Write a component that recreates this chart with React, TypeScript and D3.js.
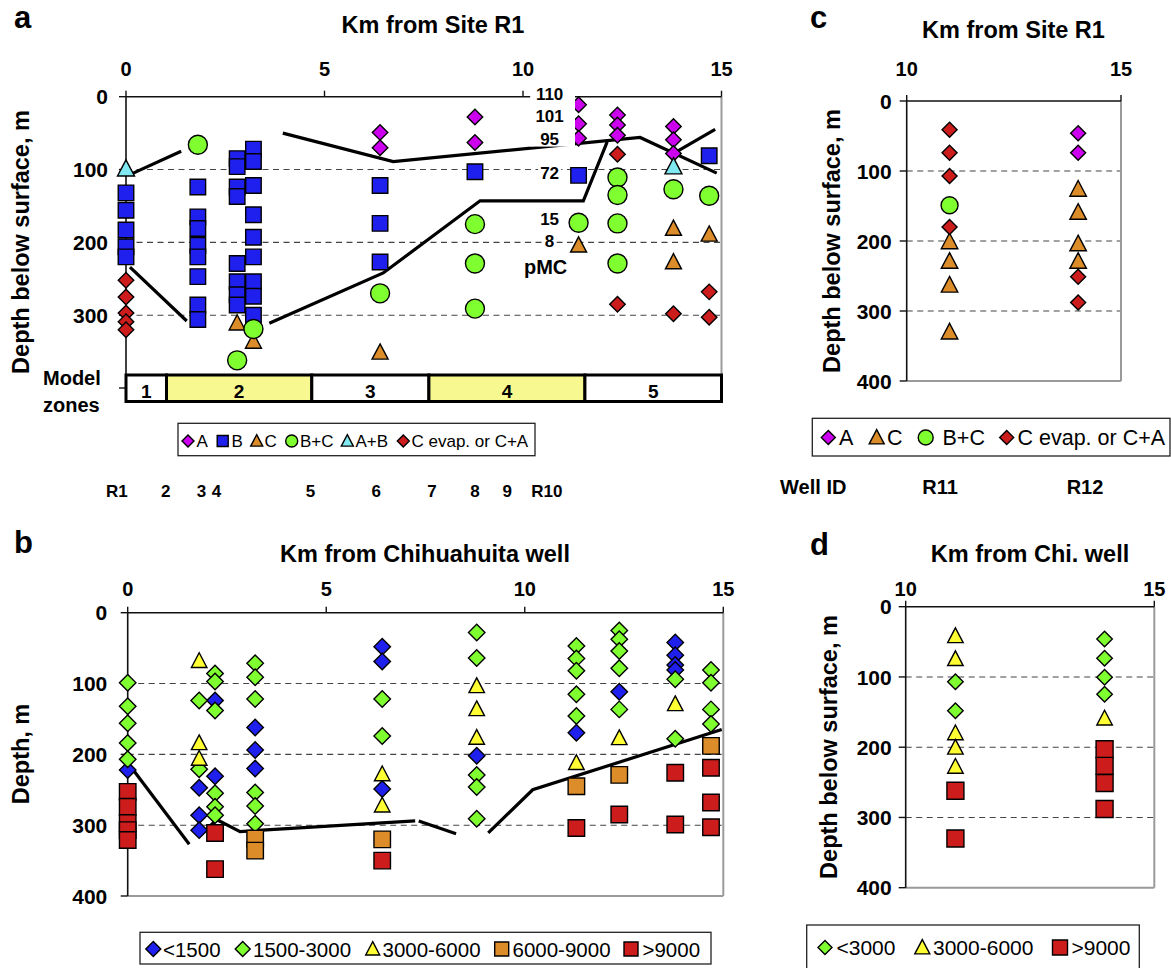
import React from "react";
import * as d3 from "d3";

const FONT = "Arial, 'Liberation Sans', Helvetica, sans-serif";

// ---------- colours ----------
const MAG = "#CC00EE";
const BLUE = "#2020EE";
const ORANGE = "#DC8C28";
const GREEN = "#80FF30";
const CYAN = "#80E8F0";
const RED = "#CC1C1C";
const YELLOW = "#FFFF33";
const ZONE_YELLOW = "#F8F890";

type P = [number, number]; // [km, depth m]

// ---------- Panel a data (km from Site R1, depth m) ----------
const aTypeA: P[] = [[6.4, 49], [6.4, 70], [8.79, 28], [8.79, 63], [11.4, 11], [11.4, 37], [11.4, 57], [12.38, 25], [12.38, 39], [12.38, 53], [13.79, 41], [13.79, 59], [13.79, 78]];
const aTypeB: P[] = [
  [0, 132], [0, 156], [0, 183], [0, 206], [0, 220],
  [1.81, 124], [1.81, 165], [1.81, 181], [1.81, 204], [1.81, 220], [1.81, 247], [1.81, 286], [1.81, 306],
  [2.8, 85], [2.8, 96], [2.8, 124], [2.8, 137], [2.8, 229], [2.8, 254], [2.8, 272], [2.8, 286],
  [3.21, 72], [3.21, 89], [3.21, 122], [3.21, 162], [3.21, 193], [3.21, 220], [3.21, 254], [3.21, 274], [3.21, 300],
  [6.4, 122], [6.4, 174], [6.4, 227], [8.79, 103], [11.4, 108], [14.69, 81]];
const aTypeC: P[] = [[2.8, 311], [3.21, 336], [6.4, 351], [11.4, 204], [13.79, 181], [13.79, 227], [14.69, 189]];
const aTypeBC: P[] = [[1.81, 66], [2.8, 362], [3.21, 319], [6.4, 270], [8.79, 175], [8.79, 229], [8.79, 291], [11.4, 173], [12.38, 111], [12.38, 135], [12.38, 174], [12.38, 229], [13.79, 127], [14.69, 136]];
const aTypeAB: P[] = [[0, 99], [13.79, 96]];
const aTypeCE: P[] = [[0, 252], [0, 275], [0, 297], [0, 309], [0, 320], [12.38, 79], [12.38, 285], [13.79, 298], [14.69, 268], [14.69, 303]];

const aLines: P[][] = [
  [[0.14, 106], [1.39, 75]],
  [[3.95, 50], [6.73, 89], [12.95, 56], [14.88, 105]],
  [[13.73, 80], [14.84, 45]],
  [[0.1, 234], [1.53, 308]],
  [[3.61, 311], [6.48, 242], [8.92, 143], [11.52, 143], [12.12, 62]],
];

const zoneNames = ["1", "2", "3", "4", "5"];
const zoneBreaksKm = [0, 1.02, 4.68, 7.63, 11.56, 15];

const pmcLabels = ["110", "101", "95", "72", "15", "8"];
const pmcDepth = [-3.5, 26.5, 58, 105, 168, 198];
const pmcKm = 10.67;

const wellLabelsA = ["R1", "2", "3", "4", "5", "6", "7", "8", "9", "R10"];
const wellLabelKmA = [-0.23, 1.0, 1.9, 2.28, 4.65, 6.3, 7.71, 8.79, 9.6, 10.6];
const wellLabelsC = ["Well ID", "R11", "R12"];
const wellLabelKmC = [7.82, 10.78, 14.16];

// ---------- Panel b data (km from Chihuahuita well) ----------
const bLt1500: P[] = [[0, 222], [1.8, 247], [1.8, 286], [1.8, 307], [2.2, 124], [2.2, 231], [3.21, 162], [3.21, 194], [3.21, 220], [6.41, 48], [6.41, 69], [6.41, 249], [8.79, 202], [11.3, 169.5], [12.38, 111.5], [13.79, 42], [13.79, 60], [13.79, 74], [13.79, 81]];
const b1500_3000: P[] = [
  [0, 99], [0, 132], [0, 156], [0, 184], [0, 207],
  [1.8, 124], [1.8, 221],
  [2.2, 86], [2.2, 97], [2.2, 138], [2.2, 255], [2.2, 274], [2.2, 286],
  [3.21, 71.5], [3.21, 91], [3.21, 122], [3.21, 254], [3.21, 273], [3.21, 298],
  [6.41, 122], [6.41, 174],
  [8.79, 28], [8.79, 64], [8.79, 229], [8.79, 246], [8.79, 291],
  [11.3, 47], [11.3, 64.5], [11.3, 82], [11.3, 115], [11.3, 146],
  [12.38, 25], [12.38, 37.6], [12.38, 54], [12.38, 78.5], [12.38, 136.5],
  [13.79, 94], [13.79, 178],
  [14.69, 81], [14.69, 99], [14.69, 136.5], [14.69, 157]];
const b3000_6000: P[] = [[1.8, 68], [1.8, 184], [1.8, 206], [6.41, 228], [6.41, 272], [8.79, 103.5], [8.79, 136], [8.79, 176.5], [11.3, 212], [12.38, 177], [13.79, 129]];
const b6000_9000: P[] = [[3.21, 319], [3.21, 336], [6.41, 320], [11.3, 245], [12.38, 229], [14.69, 188]];
const bGt9000: P[] = [[0, 253], [0, 274], [0, 297], [0, 307], [0, 321], [2.2, 311], [2.2, 362], [6.41, 350], [11.3, 304], [12.38, 285], [13.79, 226], [13.79, 299], [14.69, 219], [14.69, 268], [14.69, 303]];

const bLines: P[][] = [
  [[0.14, 222], [1.55, 327]],
  [[1.88, 312], [2.24, 292], [2.83, 309], [7.24, 294]],
  [[7.33, 294], [8.27, 312]],
  [[9.08, 311], [10.2, 250], [14.96, 165]],
];

// ---------- Panel c data ----------
const cTypeA: P[] = [[14.0, 46], [14.0, 74]];
const cTypeC: P[] = [[11.0, 201], [11.0, 229], [11.0, 263], [11.0, 330], [14.0, 126], [14.0, 159], [14.0, 204], [14.0, 229]];
const cTypeBC: P[] = [[11.0, 149]];
const cTypeCE: P[] = [[11.0, 41], [11.0, 74], [11.0, 107], [11.0, 180], [14.0, 251], [14.0, 288]];

// ---------- Panel d data ----------
const dLt3000: P[] = [[11.0, 106.7], [11.0, 148], [14.0, 46], [14.0, 73.5], [14.0, 100.5], [14.0, 124.6]];
const d3000_6000: P[] = [[11.0, 41.7], [11.0, 74.4], [11.0, 180], [11.0, 200.5], [11.0, 227.6], [14.0, 159]];
const dGt9000: P[] = [[11.0, 262], [11.0, 330], [14.0, 203], [14.0, 226.6], [14.0, 251], [14.0, 288]];

// ---------- axis ticks ----------
const xTicksWide = [0, 5, 10, 15];
const xTicksNarrow = [10, 15];
const yTicks = [0, 100, 200, 300, 400];
const yTicksA = [0, 100, 200, 300];
const yGrid = [100, 200, 300];

type Shape = "diamond" | "square" | "triangle" | "circle";

function shapePath(shape: Shape, cx: number, cy: number, s: number): string {
  const h = s / 2;
  if (shape === "diamond") return `M${cx},${cy - h}L${cx + h},${cy}L${cx},${cy + h}L${cx - h},${cy}Z`;
  if (shape === "square") return `M${cx - h},${cy - h}h${s}v${s}h${-s}Z`;
  return `M${cx},${cy - h * 1.05}L${cx + h},${cy + h * 0.85}L${cx - h},${cy + h * 0.85}Z`;
}

function Marker({ shape, cx, cy, size, fill }: { shape: Shape; cx: number; cy: number; size: number; fill: string }) {
  if (shape === "circle") return <circle cx={cx} cy={cy} r={size / 2} fill={fill} stroke="#000" strokeWidth={1.4} />;
  return <path d={shapePath(shape, cx, cy, size)} fill={fill} stroke="#000" strokeWidth={1.4} />;
}

type Series = { data: P[]; shape: Shape; fill: string; size: number };

function Points({ series, x, y }: { series: Series[]; x: d3.ScaleLinear<number, number>; y: d3.ScaleLinear<number, number> }) {
  return (
    <g>
      {series.map((s, i) => (
        <g key={i}>
          {s.data.map((d, j) => (
            <Marker key={j} shape={s.shape} cx={x(d[0])} cy={y(d[1])} size={s.size} fill={s.fill} />
          ))}
        </g>
      ))}
    </g>
  );
}

function Frame({ x, y, xTicks, yLabels, rightBottomY, tickLabelY, yLabelX, drawBottom }: {
  x: d3.ScaleLinear<number, number>; y: d3.ScaleLinear<number, number>; xTicks: number[]; yLabels: number[];
  rightBottomY: number; tickLabelY: number; yLabelX: number; drawBottom: boolean;
}) {
  const [x0, x1] = x.range();
  const [y0, y1] = y.range();
  return (
    <g>
      {yGrid.map((g) => (
        <line key={g} x1={x0} x2={x1} y1={y(g)} y2={y(g)} stroke="#444" strokeWidth={1.1} strokeDasharray="6 4.5" />
      ))}
      <line x1={x1} x2={x1} y1={y0} y2={rightBottomY} stroke="#9a9a9a" strokeWidth={2} />
      {drawBottom && <line x1={x0} x2={x1} y1={y1} y2={y1} stroke="#9a9a9a" strokeWidth={2} />}
      <line x1={x0} x2={x1} y1={y0} y2={y0} stroke="#111" strokeWidth={1.6} />
      <line x1={x0} x2={x0} y1={y0} y2={y1} stroke="#111" strokeWidth={1.6} />
      {xTicks.map((t) => (
        <g key={t}>
          <line x1={x(t)} x2={x(t)} y1={y0} y2={y0 - 6} stroke="#111" strokeWidth={1.4} />
          <text x={x(t)} y={tickLabelY} textAnchor="middle" fontSize={20} fontWeight="bold" fontFamily={FONT}>{t}</text>
        </g>
      ))}
      {yTicks.map((t) => (
        <line key={t} x1={x0 - 7} x2={x0} y1={y(t)} y2={y(t)} stroke="#111" strokeWidth={1.4} />
      ))}
      {yLabels.map((t) => (
        <text key={t} x={yLabelX} y={y(t)} dy="0.36em" textAnchor="end" fontSize={21} fontWeight="bold" fontFamily={FONT}>{t}</text>
      ))}
    </g>
  );
}

function Lines({ lines, x, y }: { lines: P[][]; x: d3.ScaleLinear<number, number>; y: d3.ScaleLinear<number, number> }) {
  const gen = d3.line<P>().x((d) => x(d[0])).y((d) => y(d[1]));
  return (
    <g>
      {lines.map((l, i) => (
        <path key={i} d={gen(l) || ""} fill="none" stroke="#000" strokeWidth={3.2} strokeLinejoin="miter" />
      ))}
    </g>
  );
}

type LegendItem = { shape: Shape; fill: string; label: string; mx: number; tx: number; size: number };

function Legend({ x0, x1, y0, y1, items, my, ty, fontSize }: { x0: number; x1: number; y0: number; y1: number; items: LegendItem[]; my: number; ty: number; fontSize: number }) {
  return (
    <g>
      <rect x={x0} y={y0} width={x1 - x0} height={y1 - y0} fill="#fff" stroke="#222" strokeWidth={1.3} />
      {items.map((it, i) => (
        <g key={i}>
          <Marker shape={it.shape} cx={it.mx} cy={my} size={it.size} fill={it.fill} />
          <text x={it.tx} y={ty} fontSize={fontSize} fontFamily={FONT}>{it.label}</text>
        </g>
      ))}
    </g>
  );
}

function Title({ x, y, text }: { x: number; y: number; text: string }) {
  return <text x={x} y={y} textAnchor="middle" fontSize={23.5} fontWeight="bold" fontFamily={FONT}>{text}</text>;
}

function YLabel({ x, y, text }: { x: number; y: number; text: string }) {
  return (
    <text transform={`translate(${x},${y}) rotate(-90)`} dy="0.36em" textAnchor="middle" fontSize={23.5} fontWeight="bold" fontFamily={FONT}>{text}</text>
  );
}

function PanelLetter({ x, y, text }: { x: number; y: number; text: string }) {
  return <text x={x} y={y} fontSize={31} fontWeight="bold" fontFamily={FONT}>{text}</text>;
}

export default function App() {
  const xA = d3.scaleLinear().domain([0, 15]).range([126, 721.5]);
  const yA = d3.scaleLinear().domain([0, 400]).range([96.7, 388]);
  const xB = d3.scaleLinear().domain([0, 15]).range([127.7, 723.3]);
  const yB = d3.scaleLinear().domain([0, 400]).range([612.7, 896]);
  const xC = d3.scaleLinear().domain([10, 15]).range([906.7, 1121]);
  const yC = d3.scaleLinear().domain([0, 400]).range([101, 381]);
  const xD = d3.scaleLinear().domain([10, 15]).range([905.7, 1154.3]);
  const yD = d3.scaleLinear().domain([0, 400]).range([606.7, 887.7]);

  const seriesA: Series[] = [
    { data: aTypeB, shape: "square", fill: BLUE, size: 15.5 },
    { data: aTypeA, shape: "diamond", fill: MAG, size: 15.5 },
    { data: aTypeC, shape: "triangle", fill: ORANGE, size: 16 },
    { data: aTypeBC, shape: "circle", fill: GREEN, size: 19 },
    { data: aTypeAB, shape: "triangle", fill: CYAN, size: 17 },
    { data: aTypeCE, shape: "diamond", fill: RED, size: 15.5 },
  ];
  const seriesB: Series[] = [
    { data: bLt1500, shape: "diamond", fill: BLUE, size: 16.5 },
    { data: b1500_3000, shape: "diamond", fill: GREEN, size: 16.5 },
    { data: b3000_6000, shape: "triangle", fill: YELLOW, size: 15.5 },
    { data: b6000_9000, shape: "square", fill: ORANGE, size: 16.5 },
    { data: bGt9000, shape: "square", fill: RED, size: 16.5 },
  ];
  const seriesC: Series[] = [
    { data: cTypeA, shape: "diamond", fill: MAG, size: 15 },
    { data: cTypeC, shape: "triangle", fill: ORANGE, size: 16.5 },
    { data: cTypeBC, shape: "circle", fill: GREEN, size: 17 },
    { data: cTypeCE, shape: "diamond", fill: RED, size: 15 },
  ];
  const seriesD: Series[] = [
    { data: dLt3000, shape: "diamond", fill: GREEN, size: 15.5 },
    { data: d3000_6000, shape: "triangle", fill: YELLOW, size: 15.5 },
    { data: dGt9000, shape: "square", fill: RED, size: 17 },
  ];

  const zoneTop = 375;
  const zoneBottom = 401.5;
  const boxX0 = xA(10.18), boxX1 = xA(11.31);

  return (
    <svg width={1171} height={968} style={{ position: "absolute", left: 0, top: 0, background: "#fff" }}>
      {/* ================= Panel a ================= */}
      <PanelLetter x={14} y={28} text="a" />
      <Title x={433} y={33} text="Km from Site R1" />
      <YLabel x={21} y={242} text="Depth below surface, m" />
      <Frame x={xA} y={yA} xTicks={xTicksWide} yLabels={yTicksA} rightBottomY={zoneTop} tickLabelY={76} yLabelX={108} drawBottom={false} />
      <Lines lines={aLines} x={xA} y={yA} />
      <Points series={seriesA} x={xA} y={yA} />
      <rect x={boxX0} y={yA(-14)} width={boxX1 - boxX0} height={yA(68.5) - yA(-14)} fill="#fff" />
      {pmcLabels.map((l, i) => {
        const w = l.length * 9.5 + 4;
        return (
          <g key={l}>
            {i >= 3 && <rect x={xA(pmcKm) - w / 2} y={yA(pmcDepth[i]) - 9} width={w} height={18} fill="#fff" />}
            <text x={xA(pmcKm)} y={yA(pmcDepth[i])} dy="0.36em" textAnchor="middle" fontSize={17} fontWeight="bold" fontFamily={FONT}>{l}</text>
          </g>
        );
      })}
      <text x={xA(pmcKm) - 4} y={274} textAnchor="middle" fontSize={20} fontWeight="bold" fontFamily={FONT}>pMC</text>
      {zoneNames.map((z, i) => {
        const zx0 = xA(zoneBreaksKm[i]);
        const zx1 = xA(zoneBreaksKm[i + 1]);
        return (
          <g key={z}>
            <rect x={zx0} y={zoneTop} width={zx1 - zx0} height={zoneBottom - zoneTop} fill={i === 1 || i === 3 ? ZONE_YELLOW : "#fff"} stroke="#000" strokeWidth={3} />
            <text x={(zx0 + zx1) / 2} y={398} textAnchor="middle" fontSize={19} fontWeight="bold" fontFamily={FONT}>{z}</text>
          </g>
        );
      })}
      <text x={43} y={385} fontSize={20} fontWeight="bold" fontFamily={FONT}>Model</text>
      <text x={43} y={412} fontSize={20} fontWeight="bold" fontFamily={FONT}>zones</text>
      <Legend x0={178} x1={535} y0={423.3} y1={455.7} my={441} ty={446.5} fontSize={17}
        items={[
          { shape: "diamond", fill: MAG, label: "A", mx: 188, tx: 196.5, size: 12 },
          { shape: "square", fill: BLUE, label: "B", mx: 222.7, tx: 231.5, size: 11 },
          { shape: "triangle", fill: ORANGE, label: "C", mx: 256.7, tx: 264.5, size: 12 },
          { shape: "circle", fill: GREEN, label: "B+C", mx: 291.7, tx: 300, size: 12 },
          { shape: "triangle", fill: CYAN, label: "A+B", mx: 347.3, tx: 355.5, size: 12 },
          { shape: "diamond", fill: RED, label: "C evap. or C+A", mx: 403.3, tx: 411.5, size: 12 },
        ]} />
      {wellLabelsA.map((l, i) => (
        <text key={l + i} x={xA(wellLabelKmA[i])} y={497} textAnchor="middle" fontSize={17} fontWeight="bold" fontFamily={FONT}>{l}</text>
      ))}

      {/* ================= Panel c ================= */}
      <PanelLetter x={810} y={28} text="c" />
      <Title x={1013.5} y={38} text="Km from Site R1" />
      <YLabel x={832} y={241} text="Depth below surface, m" />
      <Frame x={xC} y={yC} xTicks={xTicksNarrow} yLabels={yTicks} rightBottomY={yC(400)} tickLabelY={76} yLabelX={891.7} drawBottom={true} />
      <Points series={seriesC} x={xC} y={yC} />
      <Legend x0={812.3} x1={1170} y0={418.3} y1={456} my={437.5} ty={445} fontSize={21.5}
        items={[
          { shape: "diamond", fill: MAG, label: "A", mx: 828.3, tx: 839, size: 14 },
          { shape: "triangle", fill: ORANGE, label: "C", mx: 876.7, tx: 887, size: 15 },
          { shape: "circle", fill: GREEN, label: "B+C", mx: 925.7, tx: 942.5, size: 15 },
          { shape: "diamond", fill: RED, label: "C evap. or C+A", mx: 1006.7, tx: 1017.5, size: 14 },
        ]} />
      {wellLabelsC.map((l, i) => (
        <text key={l} x={xC(wellLabelKmC[i])} y={493.5} textAnchor="middle" fontSize={20} fontWeight="bold" fontFamily={FONT}>{l}</text>
      ))}

      {/* ================= Panel b ================= */}
      <PanelLetter x={14} y={553} text="b" />
      <Title x={425} y={561.5} text="Km from Chihuahuita well" />
      <YLabel x={21} y={754} text="Depth, m" />
      <Frame x={xB} y={yB} xTicks={xTicksWide} yLabels={yTicks} rightBottomY={yB(400)} tickLabelY={596} yLabelX={107.3} drawBottom={true} />
      <Lines lines={bLines} x={xB} y={yB} />
      <Points series={seriesB} x={xB} y={yB} />
      <Legend x0={140} x1={711} y0={932.3} y1={964} my={949} ty={956.5} fontSize={20.5}
        items={[
          { shape: "diamond", fill: BLUE, label: "<1500", mx: 153.3, tx: 163, size: 15 },
          { shape: "diamond", fill: GREEN, label: "1500-3000", mx: 242.7, tx: 253, size: 15 },
          { shape: "triangle", fill: YELLOW, label: "3000-6000", mx: 372.7, tx: 382.5, size: 14 },
          { shape: "square", fill: ORANGE, label: "6000-9000", mx: 501.7, tx: 512.5, size: 14 },
          { shape: "square", fill: RED, label: ">9000", mx: 631, tx: 642.5, size: 14 },
        ]} />

      {/* ================= Panel d ================= */}
      <PanelLetter x={810} y={555} text="d" />
      <Title x={1030} y={561.5} text="Km from Chi. well" />
      <YLabel x={829} y={747} text="Depth below surface, m" />
      <Frame x={xD} y={yD} xTicks={xTicksNarrow} yLabels={yTicks} rightBottomY={yD(400)} tickLabelY={596} yLabelX={891.7} drawBottom={true} />
      <Points series={seriesD} x={xD} y={yD} />
      <Legend x0={806.7} x1={1139.3} y0={925} y1={980} my={947.5} ty={955} fontSize={21}
        items={[
          { shape: "diamond", fill: GREEN, label: "<3000", mx: 825, tx: 836.5, size: 14 },
          { shape: "triangle", fill: YELLOW, label: "3000-6000", mx: 922.3, tx: 933, size: 15 },
          { shape: "square", fill: RED, label: ">9000", mx: 1060, tx: 1071.5, size: 15 },
        ]} />
    </svg>
  );
}
